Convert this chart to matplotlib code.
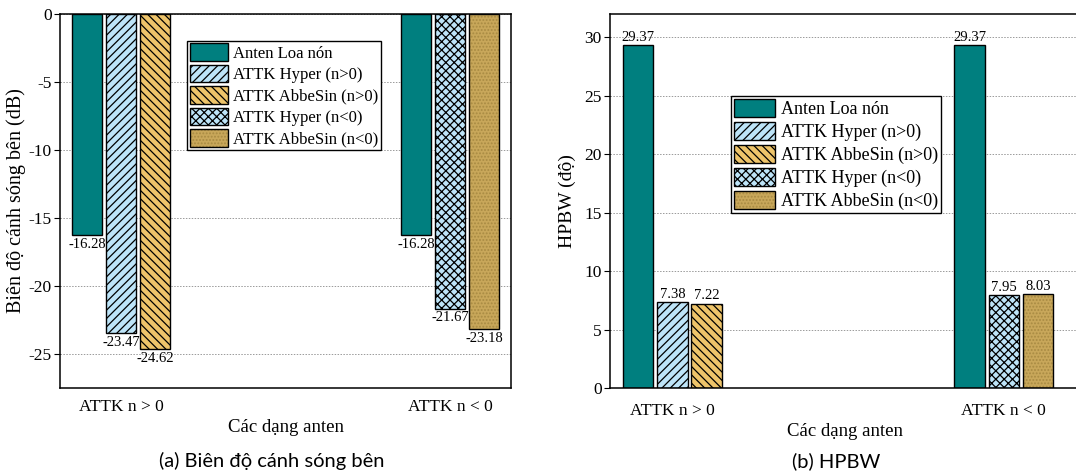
import numpy as np
import matplotlib
matplotlib.use('Agg')
import matplotlib.pyplot as plt
from matplotlib.patches import Patch

plt.rcParams['font.family'] = ['Liberation Serif', 'DejaVu Serif']
plt.rcParams['axes.unicode_minus'] = False
plt.rcParams['hatch.linewidth'] = 0.9

################################ data
groups = ['ATTK n > 0', 'ATTK n < 0']
names = ['Anten Loa nón', 'ATTK Hyper (n>0)', 'ATTK AbbeSin (n>0)',
         'ATTK Hyper (n<0)', 'ATTK AbbeSin (n<0)']

# side lobe level (dB): horn, hyper, abbesin for each group
sll_horn = [-16.28, -16.28]
sll_hyper = [-23.47, -21.67]
sll_abbe = [-24.62, -23.18]

# HPBW (degree)
hpbw_horn = [29.37, 29.37]
hpbw_hyper = [7.38, 7.95]
hpbw_abbe = [7.22, 8.03]

################################ styles
teal = '#007f7f'
blue = '#bde4f8'
orange = '#eec46a'
gold = '#c8a75a'
# (face, hatch, hatch colour) per legend entry
styles = [(teal, '', 'black'),
          (blue, '////', 'black'),
          (orange, '\\\\\\\\', 'black'),
          (blue, 'xxxx', 'black'),
          (gold, '.....', '#a88a42')]

step = 0.103
width = 0.092


def draw_bar(ax, x, v, st):
  face, hatch, hc = st
  ax.bar(x, v, width, color=face, hatch=hatch, edgecolor=hc, linewidth=0, zorder=2)
  ax.bar(x, v, width, fill=False, edgecolor='black', linewidth=1.0, zorder=3)


def draw_panel(ax, horn, hyper, abbe, below, pad):
  pos = np.arange(len(groups))
  for g in range(len(groups)):
    vals = [horn[g], hyper[g], abbe[g]]
    sts = [styles[0], styles[1 + 2 * g], styles[2 + 2 * g]]
    for k in range(3):
      x = pos[g] + (k - 1) * step
      draw_bar(ax, x, vals[k], sts[k])
      if below:
        ax.text(x, vals[k] - 0.2, f'{vals[k]:.2f}', ha='center', va='top', fontsize=10.5, zorder=4)
      else:
        ax.text(x, vals[k] + 0.1, f'{vals[k]:.2f}', ha='center', va='bottom', fontsize=10.5, zorder=4)
  ax.set_xticks(pos)
  ax.set_xticklabels(groups, fontsize=12.5)
  ax.tick_params(axis='x', length=0, pad=pad)
  ax.tick_params(axis='y', labelsize=12.5, length=4.5, pad=1.5, direction='out')
  ax.yaxis.grid(True, linestyle=(0, (1.5, 1.5)), color='#9a9a9a', linewidth=0.7)
  ax.set_axisbelow(True)
  for s in ax.spines.values():
    s.set_linewidth(1.1)
  ax.set_xlabel('Các dạng anten', fontsize=13.5, labelpad=3)


def legend_handles():
  hs = []
  for face, hatch, hc in styles:
    fill = Patch(facecolor=face, hatch=hatch, edgecolor=hc, linewidth=0)
    border = Patch(fill=False, edgecolor='black', linewidth=1.0)
    hs.append((fill, border))
  return hs


def add_legend(ax, x0, y0, size):
  ax.legend(legend_handles(), names, loc='upper left', bbox_to_anchor=(x0, y0),
            fontsize=size, frameon=True, fancybox=False, edgecolor='black',
            framealpha=1, borderpad=0.15, handlelength=2.3, handleheight=1.2,
            handletextpad=0.3, labelspacing=0.2, borderaxespad=0)


fig = plt.figure(figsize=(10.76, 4.74), dpi=100)

################################ (a) side lobe level
ax1 = fig.add_axes([60 / 1076, 86 / 474, 451 / 1076, 374 / 474])
draw_panel(ax1, sll_horn, sll_hyper, sll_abbe, below=True, pad=8)
ax1.set_xlim(-0.185, 1.185)
ax1.set_ylim(-27.5, 0)
ax1.set_yticks([0, -5, -10, -15, -20, -25])
ax1.set_ylabel('Biên độ cánh sóng bên (dB)', fontsize=14.5, labelpad=2)
add_legend(ax1, 0.282, 0.928, 12)

################################ (b) HPBW
ax2 = fig.add_axes([610 / 1076, 86 / 474, 470 / 1076, 374 / 474])
draw_panel(ax2, hpbw_horn, hpbw_hyper, hpbw_abbe, below=False, pad=11)
ax2.set_xlim(-0.188, 1.23)
ax2.set_ylim(0, 32)
ax2.set_yticks([0, 5, 10, 15, 20, 25, 30])
ax2.set_ylabel('HPBW (độ)', fontsize=14, labelpad=6)
add_legend(ax2, 0.258, 0.781, 13)

fig.text(272 / 1076, 1 - 461 / 474, '(a) Biên độ cánh sóng bên', ha='center', va='center',
         fontsize=14.5, family=['Lato', 'DejaVu Sans'])
fig.text(836 / 1076, 1 - 461 / 474, '(b) HPBW', ha='center', va='center',
         fontsize=14.5, family=['Lato', 'DejaVu Sans'])

fig.savefig('out.png', dpi=100)
